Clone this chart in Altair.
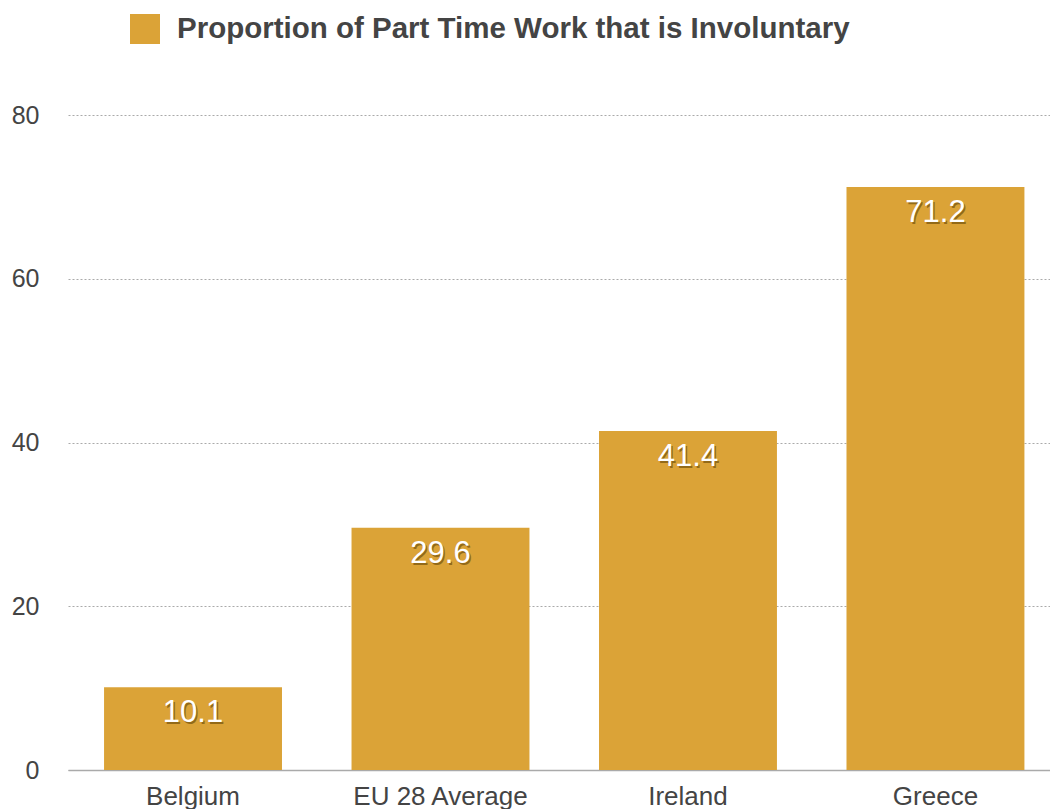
import altair as alt
import pandas as pd

countries = ["Belgium", "EU 28 Average", "Ireland", "Greece"]
values = [10.1, 29.6, 41.4, 71.2]
series = "Proportion of Part Time Work that is Involuntary"

df = pd.DataFrame({"country": countries, "value": values, "series": [series] * 4})
df["label"] = df["value"].map(lambda v: f"{v:.1f}")

FONT = "Liberation Sans"
COLOR = "#DBA337"

x = alt.X("country:N", sort=countries, title=None,
          scale=alt.Scale(paddingInner=0.281, paddingOuter=0.1245, align=0.585),
          axis=alt.Axis(labelAngle=0, labelFontSize=26, labelColor="#444444",
                        labelFont=FONT, ticks=False, labelPadding=13,
                        domainColor="#aaaaaa", domainWidth=1.5, grid=False))
y = alt.Y("value:Q", title=None,
          scale=alt.Scale(domain=[0, 80], nice=False),
          axis=alt.Axis(values=[0, 20, 40, 60, 80], labelFontSize=25,
                        labelColor="#444444", labelFont=FONT, ticks=False,
                        labelPadding=29, domain=False, gridDash=[2, 2],
                        gridColor="#aaaaaa", gridWidth=1))

bars = alt.Chart(df).mark_bar(color=COLOR).encode(
    x=x, y=y,
    color=alt.Color("series:N", scale=alt.Scale(range=[COLOR]),
                    legend=alt.Legend(title=None, orient="none", legendX=62, legendY=-101,
                                      padding=0, offset=0,
                                      symbolType="square", symbolSize=900,
                                      symbolStrokeWidth=0, symbolOpacity=1,
                                      labelFontSize=29.5, labelFont=FONT,
                                      labelFontWeight="bold", labelColor="#444444",
                                      labelOffset=17, labelLimit=1000)),
)

shadow = alt.Chart(df).mark_text(baseline="middle", align="center", fontSize=31,
                                 font=FONT, color="#5a3d00", opacity=0.55,
                                 dy=28, dx=1.5).encode(
    x=alt.X("country:N", sort=countries), y="value:Q", text="label:N")

labels = alt.Chart(df).mark_text(baseline="middle", align="center", fontSize=31,
                                 font=FONT, color="white", dy=26).encode(
    x=alt.X("country:N", sort=countries), y="value:Q", text="label:N")

chart = (bars + shadow + labels).properties(
    width=982, height=655,
    autosize=alt.AutoSizeParams(type="none"),
    padding={"left": 68, "top": 115, "right": 0, "bottom": 39},
).configure_view(stroke=None)

chart.save("out.html", embed_options={"renderer": "svg", "actions": False})
